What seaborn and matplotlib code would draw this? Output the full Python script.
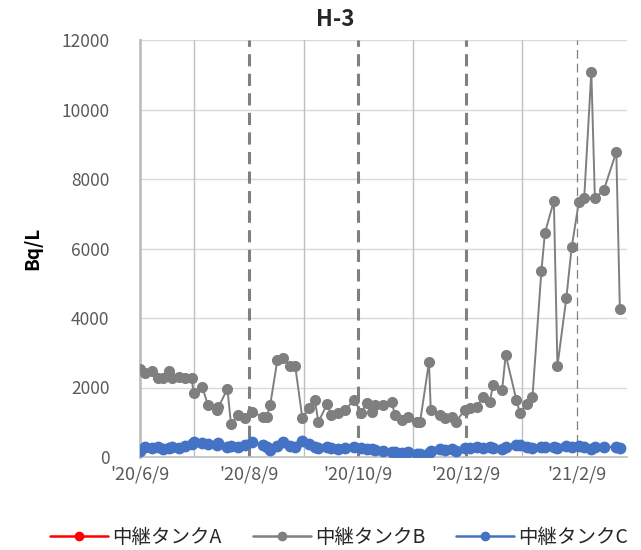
import pandas as pd
import matplotlib
matplotlib.use('Agg')
import matplotlib.pyplot as plt
import matplotlib.dates as mdates
from matplotlib.lines import Line2D
from matplotlib.ticker import FuncFormatter
import seaborn as sns

# sampling dates (same for tanks B and C)
dates = ['2020-06-09', '2020-06-12', '2020-06-16', '2020-06-19', '2020-06-22',
         '2020-06-25', '2020-06-27', '2020-07-01', '2020-07-04', '2020-07-08',
         '2020-07-09', '2020-07-14', '2020-07-17', '2020-07-22', '2020-07-23',
         '2020-07-28', '2020-07-30', '2020-08-03', '2020-08-07', '2020-08-11',
         '2020-08-17', '2020-08-19', '2020-08-21', '2020-08-25', '2020-08-28',
         '2020-09-01', '2020-09-04', '2020-09-08', '2020-09-12', '2020-09-15',
         '2020-09-17', '2020-09-22', '2020-09-24', '2020-09-28', '2020-10-02',
         '2020-10-07', '2020-10-11', '2020-10-14', '2020-10-17', '2020-10-19',
         '2020-10-23', '2020-10-28', '2020-10-30', '2020-11-03', '2020-11-06',
         '2020-11-11', '2020-11-13', '2020-11-18', '2020-11-19', '2020-11-24',
         '2020-11-27', '2020-12-01', '2020-12-03', '2020-12-08', '2020-12-11',
         '2020-12-15', '2020-12-18', '2020-12-22', '2020-12-24', '2020-12-29',
         '2020-12-31', '2021-01-06', '2021-01-08', '2021-01-12', '2021-01-15',
         '2021-01-20', '2021-01-22', '2021-01-27', '2021-01-29', '2021-02-03',
         '2021-02-06', '2021-02-10', '2021-02-13', '2021-02-17', '2021-02-19',
         '2021-02-24', '2021-03-03', '2021-03-05']

tank_a = []  # no values shown for tank A

tank_b = [2530, 2420, 2470, 2270, 2270, 2470, 2270, 2300, 2270, 2270,
          1840, 2010, 1500, 1350, 1440, 1960, 950, 1210, 1120, 1300,
          1150, 1150, 1500, 2790, 2850, 2620, 2620, 1120, 1410, 1640,
          1010, 1530, 1210, 1270, 1350, 1640, 1270, 1550, 1300, 1500,
          1500, 1580, 1210, 1060, 1150, 1010, 1010, 2730, 1350, 1210,
          1120, 1150, 1010, 1350, 1410, 1440, 1730, 1580, 2080, 1930,
          2940, 1640, 1270, 1530, 1730, 5350, 6450, 7370, 2620, 4580,
          6040, 7340, 7450, 11080, 7450, 7680, 8780, 4260]

tank_c = [170, 280, 250, 300, 220, 270, 300, 260, 330, 380,
          430, 400, 380, 350, 400, 300, 330, 290, 350, 430,
          340, 300, 200, 330, 440, 330, 300, 470, 380, 300,
          260, 280, 250, 230, 270, 280, 250, 230, 240, 200,
          180, 150, 130, 120, 150, 100, 80, 120, 170, 230,
          200, 220, 180, 250, 270, 290, 260, 300, 250, 240,
          300, 350, 340, 300, 260, 290, 300, 280, 260, 320,
          300, 330, 300, 240, 290, 280, 300, 260]

labels = ['中継タンクA', '中継タンクB', '中継タンクC']
colors = ['#ff0000', '#7f7f7f', '#4472c4']

label_dates = ['2020-06-09', '2020-08-09', '2020-10-09', '2020-12-09', '2021-02-09']
minor_dates = ['2020-07-09', '2020-09-09', '2020-11-09', '2021-01-09']
thick_dash_dates = ['2020-08-09', '2020-10-09', '2020-12-09']
thin_dash_dates = ['2021-02-09']

df = pd.DataFrame({'date': pd.to_datetime(dates), 'B': tank_b, 'C': tank_c})

sns.set_style('white')
plt.rcParams['font.family'] = ['Noto Sans CJK JP', 'DejaVu Sans']

fig = plt.figure(figsize=(6.41, 5.5), dpi=100)
ax = fig.add_axes([140 / 641, 1 - 457 / 550, 487 / 641, 417 / 550])

# grid and reference lines
for v in range(2000, 12001, 2000):
    ax.axhline(v, color='#d9d9d9', lw=1, zorder=0)
for d in minor_dates:
    ax.axvline(pd.Timestamp(d), color='#bfbfbf', lw=1, zorder=0)
for d in thick_dash_dates:
    ax.axvline(pd.Timestamp(d), color='#808080', lw=2.2, ls=(0, (4, 2.4)), zorder=1)
for d in thin_dash_dates:
    ax.axvline(pd.Timestamp(d), color='#808080', lw=0.9, ls=(0, (7, 4)), zorder=1)

sns.lineplot(data=df, x='date', y='B', color=colors[1], marker='o', markersize=8,
             markeredgewidth=0, lw=1.4, ax=ax, zorder=3)
sns.lineplot(data=df, x='date', y='C', color=colors[2], marker='o', markersize=8.5,
             markeredgewidth=0, lw=1.6, ax=ax, zorder=4)

ax.set_xlim(pd.Timestamp('2020-06-09'), pd.Timestamp('2021-03-09'))
ax.set_ylim(0, 12000)
ax.set_yticks(range(0, 12001, 2000))
ax.set_xticks([mdates.date2num(pd.Timestamp(d)) for d in label_dates])
ax.xaxis.set_major_formatter(FuncFormatter(
    lambda x, pos: "'{:%y}/{}/{}".format(mdates.num2date(x), mdates.num2date(x).month,
                                          mdates.num2date(x).day)))
ax.tick_params(axis='both', length=0, colors='#595959')
ax.tick_params(axis='y', pad=22, labelsize=12.5)
ax.tick_params(axis='x', pad=6, labelsize=13)
ax.set_xlabel('')
ax.set_ylabel('Bq/L', fontsize=13.5, fontweight='bold', color='black', labelpad=14)

for s in ['top', 'right']:
    ax.spines[s].set_visible(False)
ax.spines['left'].set_color('#bfbfbf')
ax.spines['left'].set_linewidth(2)
ax.spines['bottom'].set_color('#bfbfbf')
ax.spines['bottom'].set_linewidth(1.2)

fig.text(335 / 641, 1 - 20 / 550, 'H-3', ha='center', va='center',
         fontsize=16, fontweight='bold')

handles = [Line2D([], [], color=c, lw=1.8, marker='o', markersize=7,
                  markeredgewidth=0) for c in colors]
fig.legend(handles, labels, loc='center', bbox_to_anchor=(339 / 641, 1 - 537 / 550),
           ncol=3, frameon=False, fontsize=14, handlelength=3.0,
           columnspacing=1.6, handletextpad=0.2)

plt.savefig('out.png', dpi=100)
plt.close()
